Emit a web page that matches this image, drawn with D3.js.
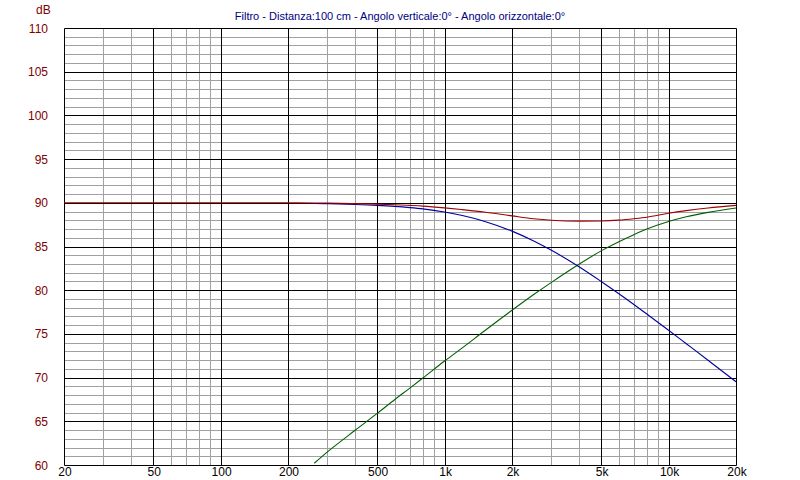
<!DOCTYPE html>
<html><head><meta charset="utf-8">
<script src="https://cdn.jsdelivr.net/npm/d3@7"></script>
<style>
body{margin:0;background:#fff;}
svg{display:block;font-family:"Liberation Sans",Arial,sans-serif;}
</style></head>
<body><svg id="c" width="800" height="480"></svg>
<script>
const title = "Filtro - Distanza:100 cm - Angolo verticale:0° - Angolo orizzontale:0°";
const yTicks = [60,65,70,75,80,85,90,95,100,105,110];
const xTickValues = [20,50,100,200,500,1000,2000,5000,10000,20000];
const xTickLabels = ["20","50","100","200","500","1k","2k","5k","10k","20k"];

const redFreq = [20,100,200,260,300,400,500,600,700,800,1000,1200,1500,2000,2500,3000,4000,5000,6000,7000,8000,10000,12000,15000,20000];
const redDb   = [90,90,90,89.98,89.97,89.91,89.85,89.78,89.7,89.62,89.42,89.22,88.95,88.5,88.17,88.0,87.9,87.92,88.02,88.18,88.35,88.8,89.1,89.4,89.7];

const blueFreq = [260,300,400,500,600,700,800,1000,1200,1500,2000,2500,3000,4000,5000,6000,7000,8000,10000,12000,15000,20000];
const blueDb   = [89.92,89.89,89.81,89.71,89.59,89.45,89.3,88.94,88.54,87.9,86.76,85.64,84.57,82.65,81.0,79.6,78.37,77.27,75.42,73.88,71.99,69.52];

const greenFreq = [262,300,400,500,600,700,800,1000,1200,1500,2000,2500,3000,4000,5000,6000,7000,8000,10000,12000,15000,20000];
const greenDb   = [60.2,61.5,64.0,65.9,67.5,68.8,69.95,71.9,73.4,75.3,77.7,79.5,80.9,83.0,84.5,85.55,86.35,86.99,87.85,88.4,88.9,89.4];

const svg = d3.select("#c");
const L=64, R=736, T=28, B=465;
const x = d3.scaleLog().domain([20,20000]).range([L,R]);
const y = d3.scaleLinear().domain([60,110]).range([B,T]);

const g = svg.append("g").attr("transform","translate(0.5,0.5)");

// minor vertical grid
const minorX = [];
[10,100,1000,10000].forEach(d=>{ for(let k=1;k<10;k++){ const f=d*k; if(f>20&&f<20000&&!xTickValues.includes(f)) minorX.push(f);} });
g.selectAll(".vx").data(minorX).enter().append("line")
 .attr("x1",d=>Math.round(x(d))).attr("x2",d=>Math.round(x(d))).attr("y1",T).attr("y2",B)
 .attr("stroke","#a0a0a0").attr("stroke-width",1);
// minor horizontal grid
const minorY = d3.range(60,111,1).filter(v=>v%5!==0);
g.selectAll(".hy").data(minorY).enter().append("line")
 .attr("x1",L).attr("x2",R).attr("y1",d=>Math.round(y(d))).attr("y2",d=>Math.round(y(d)))
 .attr("stroke","#a0a0a0").attr("stroke-width",1);
// major
g.selectAll(".Vx").data(xTickValues).enter().append("line")
 .attr("x1",d=>Math.round(x(d))).attr("x2",d=>Math.round(x(d))).attr("y1",T).attr("y2",B)
 .attr("stroke","#000").attr("stroke-width",1);
g.selectAll(".Hy").data(yTicks).enter().append("line")
 .attr("x1",L).attr("x2",R).attr("y1",d=>Math.round(y(d))).attr("y2",d=>Math.round(y(d)))
 .attr("stroke","#000").attr("stroke-width",1);

// axes labels
svg.selectAll(".yl").data(yTicks).enter().append("text")
 .attr("x",48).attr("y",d=>y(d)+4.5).attr("text-anchor","end")
 .attr("font-size","12px").attr("fill","#800000").text(d=>d);
svg.append("text").attr("x",36).attr("y",14).attr("font-size","12px").attr("fill","#800000").text("dB");
svg.selectAll(".xl").data(xTickValues).enter().append("text")
 .attr("x",d=>x(d)+1).attr("y",476).attr("text-anchor","middle")
 .attr("font-size","12px").attr("fill","#000").text((d,i)=>xTickLabels[i]);
svg.append("text").attr("x",400).attr("y",20).attr("text-anchor","middle")
 .attr("font-size","11px").attr("fill","#000080").text(title);

const line = d3.line().x(d=>x(d[0])).y(d=>y(d[1])).curve(d3.curveMonotoneX);
const clip = svg.append("clipPath").attr("id","pc").append("rect").attr("x",L).attr("y",T).attr("width",R-L+1).attr("height",B-T+1);
const cg = svg.append("g").attr("clip-path","url(#pc)");
function draw(fs,vs,col){
  cg.append("path").datum(fs.map((f,i)=>[f,vs[i]])).attr("d",line)
   .attr("fill","none").attr("stroke",col).attr("stroke-width",1.1);
}
draw(greenFreq,greenDb,"#006000");
draw(blueFreq,blueDb,"#0000a0");
draw(redFreq,redDb,"#a00000");
</script></body></html>
